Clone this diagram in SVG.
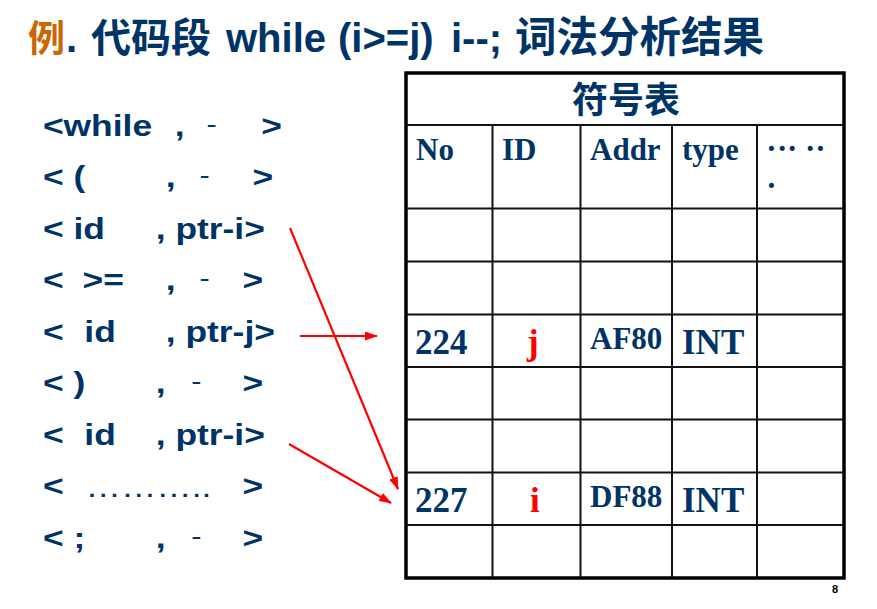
<svg xmlns="http://www.w3.org/2000/svg" width="877" height="609" viewBox="0 0 877 609">
  <style>
    .title { font-family: "Liberation Sans", "Noto Sans CJK SC", sans-serif; font-weight: bold; font-size: 40px; fill: #003366; }
    .cjk { font-family: "Noto Sans CJK SC", sans-serif; }
    .tok { font-family: "Liberation Sans", Arial, sans-serif; font-weight: bold; font-size: 30px; fill: #003366; }
    .dash { font-weight: normal; font-size: 26px; }
    .dots { font-weight: normal; }
    .cell { font-family: "Liberation Serif", "Times New Roman", serif; font-weight: bold; fill: #003366; }
    .red { fill: #FF0000; }
    .grid { stroke: #111; stroke-width: 2; fill: none; }
    .frame { stroke: #000; stroke-width: 3; fill: #fff; }
    .arrow { stroke: #FF0000; stroke-width: 2.2; fill: none; marker-end: url(#head); }
  </style>
  <defs>
    <marker id="head" markerUnits="userSpaceOnUse" markerWidth="13" markerHeight="9" refX="12" refY="4.5" orient="auto">
      <path d="M0,0 L13,4.5 L0,9 z" fill="#FF0000"/>
    </marker>
  </defs>

  <rect width="877" height="609" fill="#fff"/>

  <!-- heading -->
  <g id="title">
    <text class="title" y="52"><tspan x="28" fill="#CC6600" class="cjk" style="font-size:37px">例</tspan><tspan x="66">. </tspan><tspan x="91" class="cjk">代码段</tspan><tspan x="226">while</tspan><tspan x="338">(i&gt;=j)</tspan><tspan x="451">i--;</tspan><tspan x="515" class="cjk" style="font-size:41.5px">词法分析结果</tspan></text>
  </g>

  <!-- token stream (glyphs widened horizontally) -->
  <g id="tokens" class="tok" transform="scale(1.18 1)">
    <g id="tok1">
      <text x="36.4" y="136">&lt;while</text>
      <text x="148" y="136">,</text>
      <text x="175" y="133" class="dash">-</text>
      <text x="221.5" y="136">&gt;</text>
    </g>
    <g id="tok2">
      <text x="36.4" y="187.5">&lt; (</text>
      <text x="140.5" y="187.5">,</text>
      <text x="169" y="184.5" class="dash">-</text>
      <text x="214" y="187.5">&gt;</text>
    </g>
    <g id="tok3">
      <text x="36.4" y="239">&lt; id</text>
      <text x="132" y="239">, ptr-i&gt;</text>
    </g>
    <g id="tok4">
      <text x="36.4" y="290.5">&lt;</text>
      <text x="70" y="290.5">&gt;=</text>
      <text x="140.5" y="290.5">,</text>
      <text x="169" y="287.5" class="dash">-</text>
      <text x="205.5" y="290.5">&gt;</text>
    </g>
    <g id="tok5">
      <text x="36.4" y="342">&lt;</text>
      <text x="71.5" y="342">id</text>
      <text x="140.5" y="342">, ptr-j&gt;</text>
    </g>
    <g id="tok6">
      <text x="36.4" y="393.5">&lt; )</text>
      <text x="132" y="393.5">,</text>
      <text x="162" y="390.5" class="dash">-</text>
      <text x="205.5" y="393.5">&gt;</text>
    </g>
    <g id="tok7">
      <text x="36.4" y="445">&lt;</text>
      <text x="71.5" y="445">id</text>
      <text x="132" y="445">, ptr-i&gt;</text>
    </g>
    <g id="tok8">
      <text x="36.4" y="496.5">&lt;</text>
      <text x="72.5" y="497" class="dots">………..</text>
      <text x="205.5" y="496.5">&gt;</text>
    </g>
    <g id="tok9">
      <text x="36.4" y="548">&lt; ;</text>
      <text x="132" y="548">,</text>
      <text x="162" y="545" class="dash">-</text>
      <text x="205.5" y="548">&gt;</text>
    </g>
  </g>

  <!-- symbol table -->
  <g id="symtab">
    <rect class="frame" x="406" y="73" width="438" height="505"/>
    <path class="grid" d="M406,125 H844 M406,208.5 H844 M406,261.5 H844 M406,314.5 H844 M406,367 H844 M406,419.5 H844 M406,472.5 H844 M406,525 H844 M492.5,125 V578 M580.5,125 V578 M672,125 V578 M757,125 V578"/>
    <rect x="406" y="73" width="438" height="505" fill="none" stroke="#000" stroke-width="3"/>
    <text class="title cjk" x="626" y="113" text-anchor="middle" style="font-size:36px">符号表</text>

    <g id="hdr" class="cell" style="font-size:31px">
      <text x="416" y="160">No</text>
      <text x="502" y="160">ID</text>
      <text x="590" y="160">Addr</text>
      <text x="682" y="160">type</text>
      <text x="766.2 777 787 805 815.3" y="158.5">·····</text>
      <text x="766.2" y="196">·</text>
    </g>

    <g id="row224" class="cell" style="font-size:35px">
      <text x="415" y="354">224</text>
      <text x="527" y="354" class="red">j</text>
      <text x="590" y="349" style="font-size:31px">AF80</text>
      <text x="682" y="354">INT</text>
    </g>

    <g id="row227" class="cell" style="font-size:35px">
      <text x="415" y="512">227</text>
      <text x="530" y="512" class="red">i</text>
      <text x="590" y="507" style="font-size:31px">DF88</text>
      <text x="682" y="512">INT</text>
    </g>
  </g>

  <!-- pointers from tokens to table entries -->
  <g id="connectors">
    <line class="arrow" x1="290" y1="228" x2="398" y2="489"/>
    <line class="arrow" x1="300" y1="336" x2="377" y2="336"/>
    <line class="arrow" x1="289" y1="444" x2="391" y2="503"/>
  </g>

  <text x="832" y="593" font-family="Liberation Sans, Arial, sans-serif" font-weight="bold" font-size="11" fill="#000">8</text>
</svg>
